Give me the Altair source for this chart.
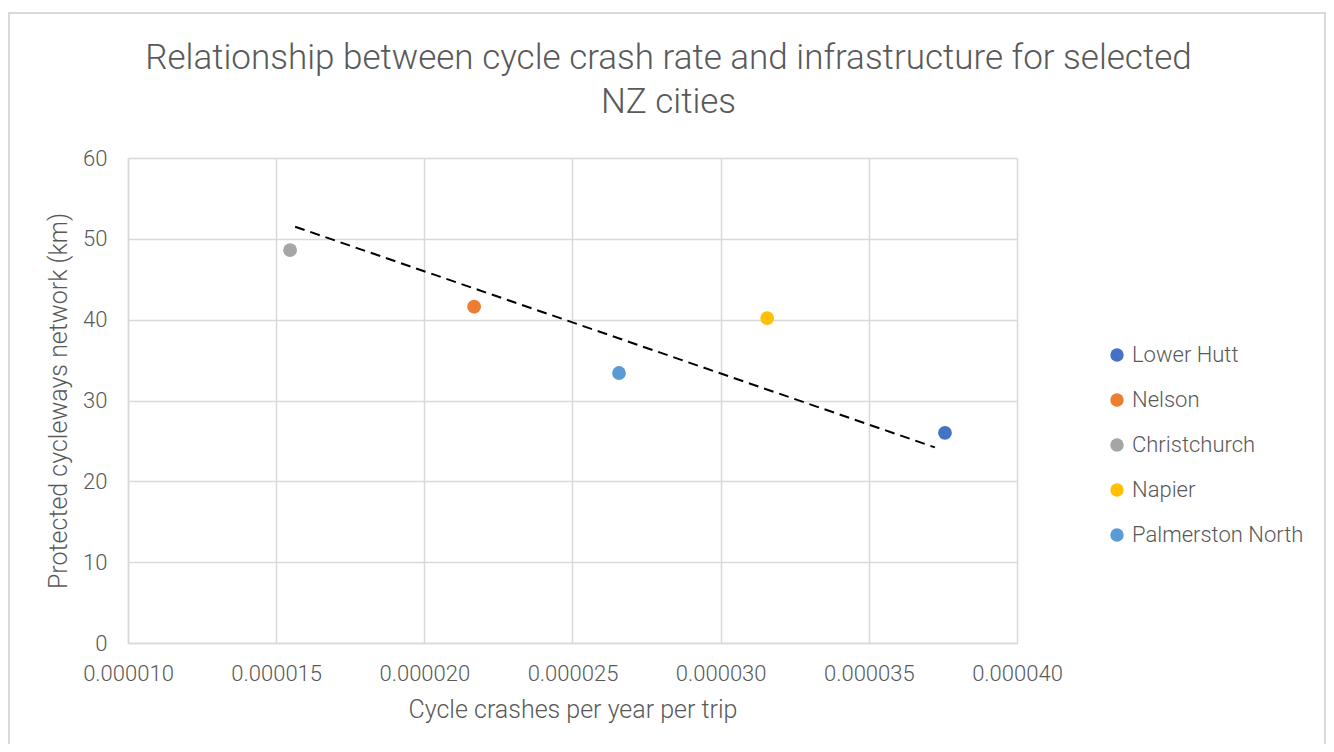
import altair as alt
import pandas as pd

cities = ["Lower Hutt", "Nelson", "Christchurch", "Napier", "Palmerston North"]
crash_rate = [0.00003757, 0.00002168, 0.00001547, 0.00003157, 0.00002657]
cycleway_km = [26.0, 41.6, 48.6, 40.2, 33.4]
colors = ["#4472C4", "#ED7D31", "#A5A5A5", "#FFC000", "#5B9BD5"]

trend_x = [0.00001564, 0.00003723]
trend_y = [51.5, 24.2]

x_ticks = [0.00001, 0.000015, 0.00002, 0.000025, 0.00003, 0.000035, 0.00004]
y_ticks = [0, 10, 20, 30, 40, 50, 60]

FONT = "Roboto"
TXT = "#595959"
GRID = "#D9D9D9"

pts = pd.DataFrame({"city": cities, "x": crash_rate, "y": cycleway_km})
trend = pd.DataFrame({"x": trend_x, "y": trend_y})

xscale = alt.Scale(domain=[0.00001, 0.00004], nice=False, zero=False)
yscale = alt.Scale(domain=[0, 60], nice=False)

xaxis = alt.Axis(values=x_ticks, format=".6f", title="Cycle crashes per year per trip",
                 grid=True, gridColor=GRID, gridWidth=1.5, domainColor=GRID, domainWidth=1.5,
                 ticks=False, labelFont=FONT, labelFontSize=22, labelFontWeight=300,
                 labelColor=TXT, labelPadding=20, labelFlush=False, labelOverlap=False,
                 labelBound=False,
                 titleFont=FONT, titleFontSize=25, titleColor=TXT, titleFontWeight=300,
                 titlePadding=13)
yaxis = alt.Axis(values=y_ticks, title="Protected cycleways network (km)",
                 grid=True, gridColor=GRID, gridWidth=1.5, domainColor=GRID, domainWidth=1.5,
                 ticks=False, labelFont=FONT, labelFontSize=22, labelFontWeight=300,
                 labelColor=TXT, labelPadding=21, labelFlush=False, labelOverlap=False,
                 titleFont=FONT, titleFontSize=25, titleColor=TXT, titleFontWeight=300,
                 titlePadding=11)

points = alt.Chart(pts).mark_circle(size=190, opacity=1).encode(
    x=alt.X("x:Q", scale=xscale, axis=xaxis),
    y=alt.Y("y:Q", scale=yscale, axis=yaxis),
    color=alt.Color("city:N", sort=cities,
                    scale=alt.Scale(domain=cities, range=colors),
                    legend=alt.Legend(title=None, orient="none", legendX=978, legendY=186,
                                      symbolType="circle", symbolSize=180, rowPadding=23,
                                      symbolOpacity=1, symbolStrokeWidth=0, labelLimit=300,
                                      labelFont=FONT, labelFontSize=22, labelFontWeight=300,
                                      labelColor=TXT, labelOffset=4)),
)

line = alt.Chart(trend).mark_line(color="black", strokeWidth=2, strokeDash=[10, 6]).encode(
    x=alt.X("x:Q", scale=xscale),
    y=alt.Y("y:Q", scale=yscale),
)

# outer chart-area frame (decoration, pixel-placed)
frame = alt.Chart(pd.DataFrame({"f": [0]})).mark_rect(
    fillOpacity=0, stroke=GRID, strokeWidth=2
).encode(
    x=alt.value(-119), x2=alt.value(1197), y=alt.value(-145), y2=alt.value(640)
)

chart = alt.layer(frame, line, points).properties(
    width=889,
    height=485,
    autosize=alt.AutoSizeParams(type="none"),
    padding={"left": 120, "top": 150, "right": 309, "bottom": 101},
    title=alt.TitleParams(
        text=["Relationship between cycle crash rate and infrastructure for selected", "NZ cities"],
        font=FONT, fontSize=35, fontWeight=300, color=TXT, anchor="middle",
        dx=96, offset=-108, lineHeight=44,
    ),
).configure_view(stroke=GRID, strokeWidth=1.5).configure(background="white")

chart.save("out.html", embed_options={"renderer": "svg", "actions": False})
